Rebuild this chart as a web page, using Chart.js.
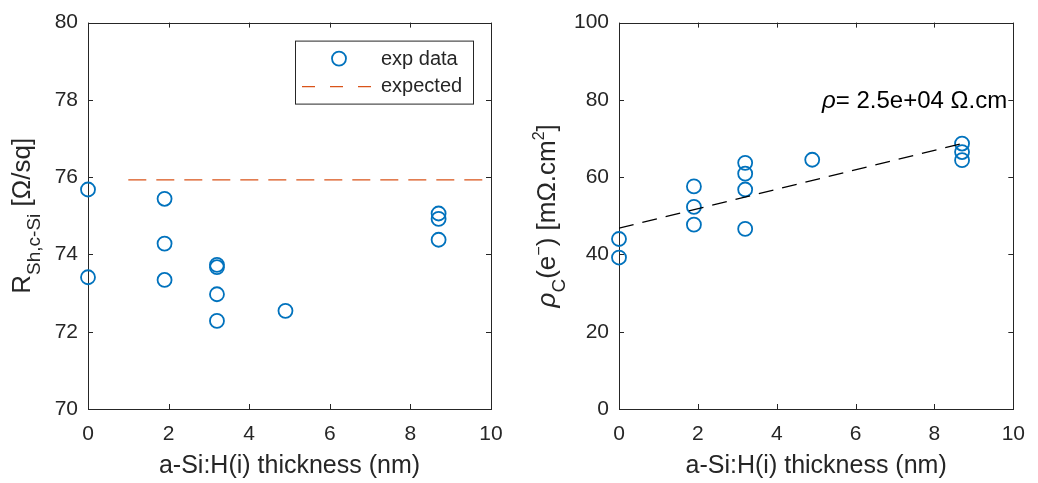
<!DOCTYPE html>
<html>
<head>
<meta charset="utf-8">
<script src="https://cdn.jsdelivr.net/npm/chart.js@4.4.1/dist/chart.umd.min.js"></script>
<style>
  html, body { margin: 0; padding: 0; background: #fff; }
  #wrap { position: relative; width: 1038px; height: 483px; }
  canvas { position: absolute; top: 0; }
  #left { left: 0; }
  #right { left: 519px; }
</style>
</head>
<body>
<div id="wrap">
  <canvas id="left" width="519" height="483"></canvas>
  <canvas id="right" width="519" height="483"></canvas>
</div>
<script>
// thickness values (nm) shared by both panels
const thickness = [0, 0, 1.9, 1.9, 1.9, 3.2, 3.2, 3.2, 3.2, 4.9, 8.7, 8.7, 8.7];
// sheet resistance of c-Si (Ohm/sq)
const rSheet = [75.68, 73.41, 75.44, 74.28, 73.34, 73.73, 73.67, 72.97, 72.28, 72.54, 75.06, 74.92, 74.38];
const expectedX = [1, 10];
const expectedY = [75.93, 75.93];
// contact resistivity (mOhm.cm2)
const thicknessC = [0, 0, 1.9, 1.9, 1.9, 3.2, 3.2, 3.2, 3.2, 4.9, 8.7, 8.7, 8.7];
const rhoC = [44.0, 39.2, 57.6, 52.3, 47.7, 63.7, 60.9, 56.8, 46.6, 64.5, 68.7, 66.5, 64.4];
const fitX = [0, 8.7];
const fitY = [46.8, 68.7];
const fitLabelPos = [5.15, 79.7];
const xTicks = [0, 2, 4, 6, 8, 10];
const leftYTicks = [70, 72, 74, 76, 78, 80];
const rightYTicks = [0, 20, 40, 60, 80, 100];

const TXT = '#262626';
const BLUE = '#0072BD';
const ORANGE = '#D95319';
const FONT = '"Liberation Sans", Arial, Helvetica, sans-serif';

function pts(xs, ys) {
	return xs.map((x, i) => ({ x: x, y: ys[i] }));
}

// draws text pieces with sub/superscripts, rotated -90deg, centred on cy
function drawRotated(ctx, parts, baseX, cy) {
	ctx.save();
	ctx.fillStyle = TXT;
	ctx.textBaseline = 'alphabetic';
	ctx.textAlign = 'left';
	let total = 0;
	parts.forEach(p => {
		ctx.font = (p.italic ? 'italic ' : '') + p.size + 'px ' + FONT;
		p.w = ctx.measureText(p.t).width;
		total += p.w;
	});
	ctx.translate(baseX, cy);
	ctx.rotate(-Math.PI / 2);
	let x = -total / 2;
	parts.forEach(p => {
		ctx.font = (p.italic ? 'italic ' : '') + p.size + 'px ' + FONT;
		ctx.fillText(p.t, x, p.dy || 0);
		x += p.w;
	});
	ctx.restore();
}

function framePlugin(xVals, yVals, yTitle, titleX) {
	return {
		id: 'frame',
		beforeDatasetsDraw(chart) {
			const ctx = chart.ctx;
			const a = chart.chartArea;
			const xs = chart.scales.x, ys = chart.scales.y;
			ctx.save();
			ctx.strokeStyle = TXT;
			ctx.lineWidth = 1;
			ctx.beginPath();
			xVals.forEach(v => {
				const px = Math.round(xs.getPixelForValue(v)) + 0.5;
				ctx.moveTo(px, a.bottom); ctx.lineTo(px, a.bottom - 5);
				ctx.moveTo(px, a.top); ctx.lineTo(px, a.top + 5);
			});
			yVals.forEach(v => {
				const py = Math.round(ys.getPixelForValue(v)) + 0.5;
				ctx.moveTo(a.left, py); ctx.lineTo(a.left + 5, py);
				ctx.moveTo(a.right, py); ctx.lineTo(a.right - 5, py);
			});
			ctx.stroke();
			ctx.strokeRect(Math.round(a.left) + 0.5, Math.round(a.top) + 0.5,
				Math.round(a.right - a.left), Math.round(a.bottom - a.top));
			ctx.restore();
		},
		afterDraw(chart) {
			const ctx = chart.ctx;
			const a = chart.chartArea;
			ctx.save();
			ctx.fillStyle = TXT;
			ctx.font = '25px ' + FONT;
			ctx.textAlign = 'center';
			ctx.textBaseline = 'alphabetic';
			ctx.fillText('a-Si:H(i) thickness (nm)', (a.left + a.right) / 2, 473);
			ctx.restore();
			drawRotated(ctx, yTitle, titleX, (a.top + a.bottom) / 2);
		}
	};
}

const legendPlugin = {
	id: 'innerLegend',
	afterDraw(chart) {
		const ctx = chart.ctx;
		const a = chart.chartArea;
		const bx = a.right - 196, by = a.top + 18, bw = 178, bh = 63;
		ctx.save();
		ctx.fillStyle = '#fff';
		ctx.fillRect(bx, by, bw, bh);
		ctx.strokeStyle = TXT;
		ctx.lineWidth = 1;
		ctx.strokeRect(bx + 0.5, by + 0.5, bw, bh);
		ctx.strokeStyle = BLUE;
		ctx.lineWidth = 1.8;
		ctx.beginPath();
		ctx.arc(bx + 44, by + 18, 7, 0, Math.PI * 2);
		ctx.stroke();
		ctx.strokeStyle = ORANGE;
		ctx.lineWidth = 1.3;
		ctx.setLineDash([13, 15]);
		ctx.beginPath();
		ctx.moveTo(bx + 7, by + 46); ctx.lineTo(bx + 79, by + 46);
		ctx.stroke();
		ctx.setLineDash([]);
		ctx.fillStyle = TXT;
		ctx.font = '20px ' + FONT;
		ctx.textBaseline = 'middle';
		ctx.fillText('exp data', bx + 86, by + 19);
		ctx.fillText('expected', bx + 86, by + 46);
		ctx.restore();
	}
};

const fitLabelPlugin = {
	id: 'fitLabel',
	afterDraw(chart) {
		const ctx = chart.ctx;
		const px = chart.scales.x.getPixelForValue(fitLabelPos[0]);
		const py = chart.scales.y.getPixelForValue(fitLabelPos[1]);
		ctx.save();
		ctx.fillStyle = '#000';
		ctx.textBaseline = 'middle';
		ctx.textAlign = 'left';
		ctx.font = 'italic 24px ' + FONT;
		ctx.fillText('ρ', px, py);
		const w = ctx.measureText('ρ').width;
		ctx.font = '24px ' + FONT;
		ctx.fillText('= 2.5e+04 Ω.cm', px + w, py);
		ctx.restore();
	}
};

function scales(yMin, yMax, yStep, yWidth) {
	return {
		x: {
			type: 'linear', min: 0, max: 10,
			grid: { display: false, drawTicks: false },
			border: { display: false },
			ticks: { stepSize: 2, autoSkip: false, maxRotation: 0, color: TXT, padding: 13, font: { family: FONT, size: 21 } },
			afterFit: s => { s.height = 74; }
		},
		y: {
			type: 'linear', min: yMin, max: yMax,
			grid: { display: false, drawTicks: false },
			border: { display: false },
			ticks: { stepSize: yStep, autoSkip: false, color: TXT, padding: 10, font: { family: FONT, size: 21 } },
			afterFit: s => { s.width = yWidth; }
		}
	};
}

const circleStyle = {
	type: 'scatter',
	pointStyle: 'circle', pointRadius: 7, pointHoverRadius: 7,
	borderColor: BLUE, pointBorderColor: BLUE, backgroundColor: 'rgba(0,0,0,0)',
	pointBackgroundColor: 'rgba(0,0,0,0)', pointBorderWidth: 1.8,
	showLine: false, clip: false
};

function dashed(label, xs, ys, color, dash) {
	return {
		type: 'line', label: label, data: pts(xs, ys),
		borderColor: color, backgroundColor: color, borderWidth: 1.3,
		borderDash: dash, pointRadius: 0, fill: false, tension: 0
	};
}

new Chart(document.getElementById('left'), {
	type: 'scatter',
	data: {
		datasets: [
			Object.assign({ label: 'exp data', data: pts(thickness, rSheet) }, circleStyle),
			dashed('expected', expectedX, expectedY, ORANGE, [18, 10])
		]
	},
	options: {
		responsive: false, animation: false,
		layout: { padding: { left: 0, top: 18, right: 28, bottom: 0 } },
		plugins: { legend: { display: false }, tooltip: { enabled: false } },
		scales: scales(70, 80, 2, 88)
	},
	plugins: [
		framePlugin(xTicks, leftYTicks, [
			{ t: 'R', size: 26 },
			{ t: 'Sh,c-Si', size: 19, dy: 10 },
			{ t: ' [Ω/sq]', size: 26 }
		], 30),
		legendPlugin
	]
});

new Chart(document.getElementById('right'), {
	type: 'scatter',
	data: {
		datasets: [
			dashed('fit', fitX, fitY, '#000', [15, 9]),
			Object.assign({ label: 'exp data', data: pts(thicknessC, rhoC) }, circleStyle)
		]
	},
	options: {
		responsive: false, animation: false,
		layout: { padding: { left: 0, top: 18, right: 13, bottom: 0 } },
		plugins: { legend: { display: false }, tooltip: { enabled: false } },
		scales: scales(0, 100, 20, 100)
	},
	plugins: [
		framePlugin(xTicks, rightYTicks, [
			{ t: 'ρ', size: 26, italic: true },
			{ t: 'C', size: 19, dy: 10 },
			{ t: '(e', size: 26 },
			{ t: '−', size: 16, dy: -11 },
			{ t: ') [mΩ.cm', size: 26 },
			{ t: '2', size: 16, dy: -11 },
			{ t: ']', size: 26 }
		], 36),
		fitLabelPlugin
	]
});
</script>
</body>
</html>
